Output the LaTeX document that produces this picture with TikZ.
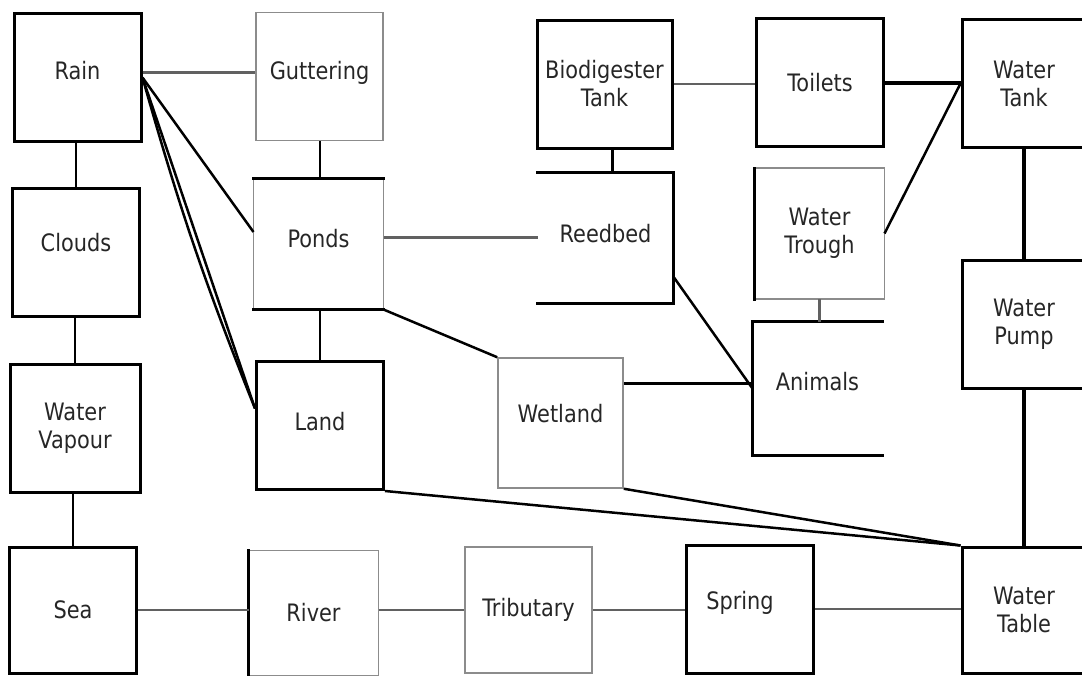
\documentclass[tikz,border=0pt]{standalone}
\usepackage{fontspec}
\newfontfamily\lblfont[FakeStretch=0.87]{DejaVu Sans}
\usetikzlibrary{calc}
\begin{document}
\begin{tikzpicture}[x=1pt,y=-1pt,
 lbl/.style={font=\lblfont\fontsize{24}{28}\selectfont, text=black!85},
 box/.style={lbl, draw=black, line width=3pt, minimum width=127pt, minimum height=128pt, inner sep=0pt},
 gbox/.style={box, draw=black!45, line width=1.5pt},
 obox/.style={box, draw=none},
 two/.style={align=center},
 side/.style={draw=black, line width=3pt, line cap=rect},
 gside/.style={draw=black!45, line width=1.5pt, line cap=rect},
 bline/.style={draw=black, line width=2pt},
 dline/.style={draw=black, line width=2.5pt},
 tline/.style={draw=black, line width=4pt},
 gline/.style={draw=black!62, line width=2.5pt}
]
\useasboundingbox (0,0) rectangle (1082,675);
\clip (0,0) rectangle (1082,675);

% nodes
\node[box] (rain) at (77.5,77.5) {\raisebox{15pt}{Rain}};
\node[gbox] (gutter) at (319.5,76.5) {\raisebox{13pt}{Guttering}};
\node[box] (clouds) at (76,252.5) {\raisebox{20pt}{Clouds}};
\node[obox] (ponds) at (318.5,244) {\raisebox{12pt}{Ponds}};
\node[box,two,minimum width=130pt] (vapour) at (75,428) {Water\\Vapour};
\node[box] (land) at (320,425.5) {\raisebox{9pt}{Land}};
\node[box,minimum height=126pt] (sea) at (73,610) {Sea};
\node[obox,minimum height=122pt] (river) at (313.5,613) {River};
\node[box,two,minimum width=135pt] (biodig) at (604.5,84) {Biodigester\\Tank};
\node[obox,minimum width=133pt] (reedbed) at (605.5,237.5) {\raisebox{9pt}{Reedbed}};
\node[box] (toilets) at (820,82.5) {Toilets};
\node[box,two,minimum width=124pt] (wtank) at (1024,83.5) {Water\\Tank};
\node[obox,two] (trough) at (819.5,233.5) {Water\\Trough};
\node[box,two,minimum width=124pt] (pump) at (1024,324.5) {Water\\Pump};
\node[obox,minimum height=131pt] (animals) at (817.5,388.5) {\raisebox{15pt}{Animals}};
\node[gbox,minimum width=125pt,minimum height=130pt] (wetland) at (560.5,423) {\raisebox{20pt}{Wetland}};
\node[gbox,minimum height=126pt] (trib) at (528.5,610) {Tributary};
\node[box] (spring) at (750,609) {\raisebox{18pt}{Spring}\kern20pt};
\node[box,two,minimum width=124pt,minimum height=126pt] (wtable) at (1024,610) {Water\\Table};

% partial borders
\draw[gside] (ponds.north west) -- (ponds.south west);
\draw[gside] (ponds.north east) -- (ponds.south east);
\draw[side] (ponds.north west) -- (ponds.north east);
\draw[side] (ponds.south west) -- (ponds.south east);

\draw[gside] (river.north west) -- (river.north east) -- (river.south east) -- (river.south west);
\draw[side] (river.north west) -- (river.south west);

\draw[gside] (trough.north west) -- (trough.north east) -- (trough.south east) -- (trough.south west);
\draw[side] (trough.north west) -- (trough.south west);

\draw[side] (reedbed.north west) -- (reedbed.north east) -- (reedbed.south east) -- (reedbed.south west);
\draw[side] (animals.north east) -- (animals.north west) -- (animals.south west) -- (animals.south east);

% connectors
\draw[gline] ([yshift=5pt]rain.east) -- ([yshift=5pt]rain.east -| gutter.west);
\draw[bline] (clouds.north) -- (clouds.north |- rain.south);
\draw[bline] (vapour.north) -- (vapour.north |- clouds.south);
\draw[bline] (sea.north) -- (sea.north |- vapour.south);
\draw[gline] (sea.east) -- (sea.east -| river.west);
\draw[gline] (trib.west -| river.east) -- (trib.west);
\draw[gline] (trib.east) -- (trib.east -| spring.west);
\draw[gline] (spring.east) -- (spring.east -| wtable.west);
\draw[bline] (gutter.south) -- (gutter.south |- ponds.north);
\draw[bline] (land.north) -- (land.north |- ponds.south);
\draw[dline] (rain.east) -- ([yshift=12pt]ponds.west);
\draw[dline] (rain.east) -- ([yshift=17pt]land.west);
\draw[dline] (rain.east) to[bend right=3] ([yshift=17pt]land.west);
\draw[dline] (ponds.south east) -- (wetland.north west);
\draw[gline] (reedbed.west -| ponds.east) -- (reedbed.west);
\draw[draw=black, line width=3.5pt] ([xshift=8pt]biodig.south) -- ([xshift=8pt]biodig.south |- reedbed.north);
\draw[gline] (biodig.east) -- (biodig.east -| toilets.west);
\draw[tline] (toilets.east) -- (toilets.east -| wtank.west);
\draw[dline] (trough.east) -- (wtank.west);
\draw[gline] (trough.south) -- (trough.south |- animals.north);
\draw[tline] (wtank.south) -- (wtank.south |- pump.north);
\draw[tline] (pump.south) -- (pump.south |- wtable.north);
\coordinate (ra) at ($(reedbed.north east)!0.8!(reedbed.south east)$);
\draw[dline] (ra) -- (animals.west);
\coordinate (wa) at ($(wetland.north east)!0.2!(wetland.south east)$);
\draw[dline] (wa) -- (wa -| animals.west);
\draw[dline] (land.south east) -- (wtable.north west);
\draw[dline] (wetland.south east) -- (wtable.north west);
\end{tikzpicture}
\end{document}
